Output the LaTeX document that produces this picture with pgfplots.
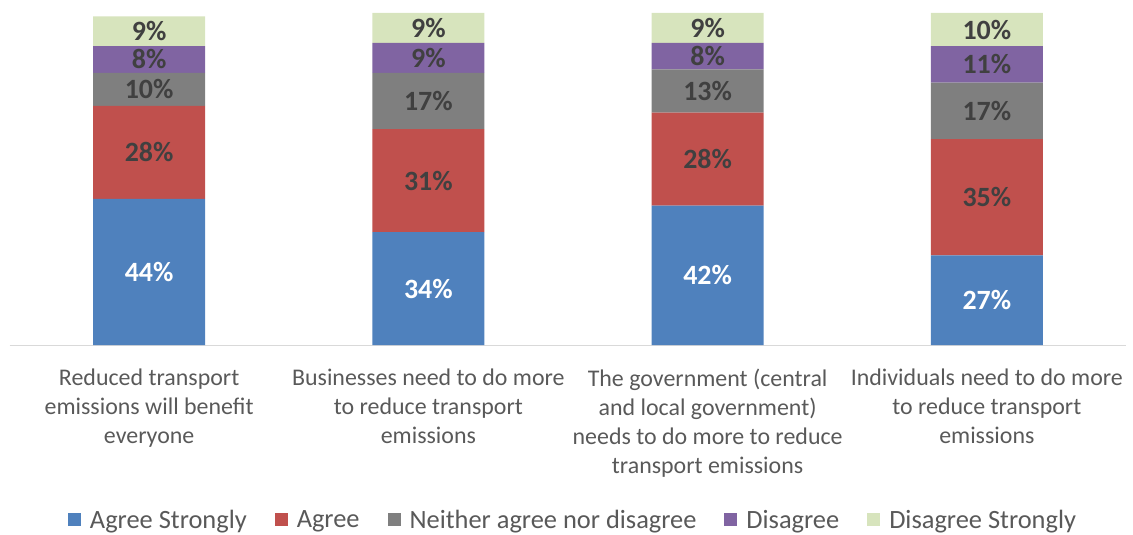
\documentclass[border=0pt]{standalone}
\usepackage{pgfplots}
\usepackage{pgfplotstable}
\pgfplotsset{compat=1.18}
\usepackage{fontspec}
\setmainfont{Carlito}
\definecolor{cAS}{HTML}{4F81BD}
\definecolor{cA}{HTML}{C0504D}
\definecolor{cN}{HTML}{7F7F7F}
\definecolor{cD}{HTML}{8064A2}
\definecolor{cDS}{HTML}{D7E4BD}
\definecolor{lab}{HTML}{404040}
\definecolor{tick}{HTML}{595959}
\pgfplotstableread{
x as a n d ds
0 44 28 10 8 9
1 34 31 17 9 9
2 42 28 13 8 9
3 27 35 17 11 10
}\data
\begin{document}
\begin{tikzpicture}
\useasboundingbox (-9.5bp,-190bp) rectangle (1123.5bp,345bp);
\begin{axis}[
  at={(0,0)}, anchor=south west,
  scale only axis, width=1117bp, height=332bp,
  ybar stacked, bar width=112bp,
  xmin=-0.5, xmax=3.5, ymin=0, ymax=100,
  enlarge x limits=false, enlarge y limits=false,
  axis y line=none, axis x line*=bottom,
  axis line style={draw=black!15, line width=1bp},
  x axis line style={-},
  xtick=data, major tick length=0pt,
  xticklabels={{Reduced transport\\emissions will benefit\\everyone},
    {Businesses need to do more\\to reduce transport\\emissions},
    {The government (central\\and local government)\\needs to do more to reduce\\transport emissions},
    {Individuals need to do more\\to reduce transport\\emissions}},
  xticklabel style={align=center, font=\fontsize{24}{29}\selectfont, text=tick, anchor=north, inner sep=0pt, yshift=-24bp},
  /pgf/number format/assume math mode=true,
  nodes near coords={\pgfmathprintnumber{\pgfplotspointmeta}\%},
  every node near coord/.append style={anchor=center, font=\fontsize{28}{32}\selectfont\bfseries, text=lab},
  point meta=explicit,
  legend columns=5,
  legend cell align=left,
  legend style={draw=none, at={(0.5036,-0.527)}, anchor=center, font=\fontsize{26.5}{30}\selectfont, text=tick,
    nodes={inner sep=0pt},
    /tikz/every odd column/.append style={column sep=9bp},
    /tikz/every even column/.append style={column sep=28bp}},
  legend image code/.code={\fill[#1] (0bp,-6.5bp) rectangle (13bp,6.5bp);},
]
\addplot[fill=cAS, draw=none, every node near coord/.append style={text=white}] table[x=x, y=as, meta=as]{\data};
\addplot[fill=cA, draw=none] table[x=x, y=a, meta=a]{\data};
\addplot[fill=cN, draw=none] table[x=x, y=n, meta=n]{\data};
\addplot[fill=cD, draw=none] table[x=x, y=d, meta=d]{\data};
\addplot[fill=cDS, draw=none] table[x=x, y=ds, meta=ds]{\data};
\legend{Agree Strongly, Agree, Neither agree nor disagree, Disagree, Disagree Strongly}
\end{axis}
\end{tikzpicture}
\end{document}
